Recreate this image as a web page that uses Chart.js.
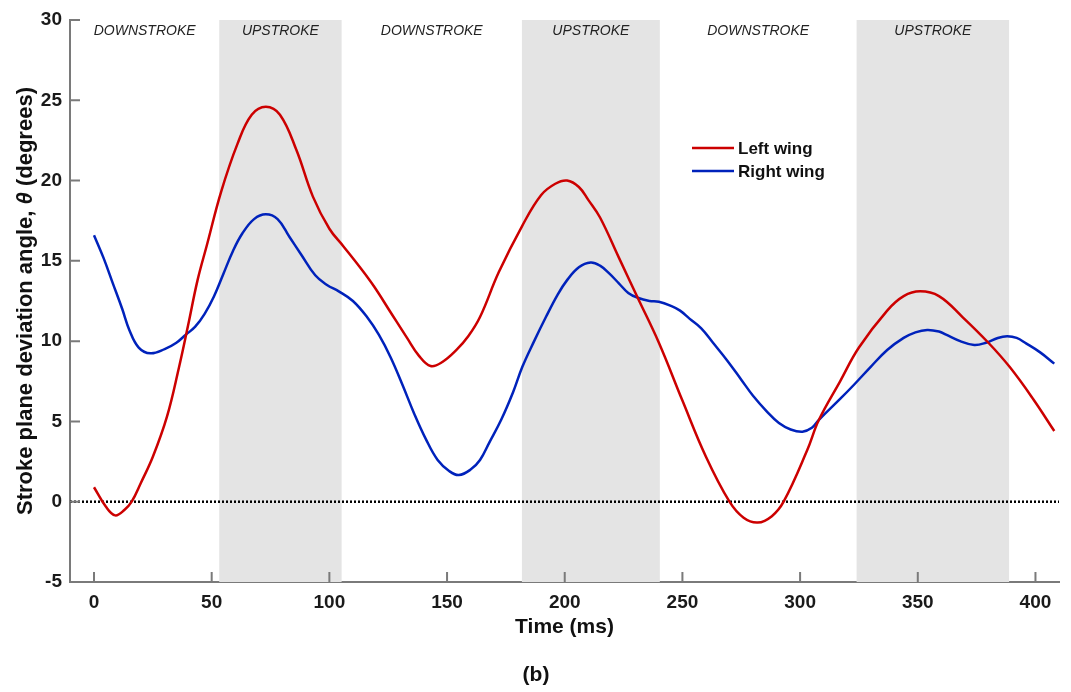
<!DOCTYPE html>
<html>
<head>
<meta charset="utf-8">
<script src="https://cdn.jsdelivr.net/npm/chart.js@4.4.1/dist/chart.umd.min.js"></script>
<style>
  html, body { margin: 0; padding: 0; background: #fff; }
  #wrap { width: 1071px; height: 692px; }
</style>
</head>
<body>
<div id="wrap"><canvas id="strokeChart" width="1071" height="692"></canvas></div>
<script>
// time samples (ms) and stroke plane deviation angle (deg)
var leftTime = [0, 5, 9, 13, 16, 20, 25, 31, 36, 40, 44, 48, 54, 61, 67, 73, 79, 86, 93, 100, 106, 113, 119, 126, 133, 138, 143, 148, 154, 159, 164, 172, 182, 190, 196, 201, 206, 210, 215, 223, 231, 240, 250, 260, 270, 276, 282, 288, 293, 303, 308, 317, 325, 337, 344, 351, 359, 369, 380, 389, 399, 408];
var leftWing = [0.9, -0.3, -0.85, -0.5, 0, 1.2, 2.8, 5.3, 8.3, 11.0, 13.8, 16.0, 19.3, 22.3, 24.1, 24.6, 24.1, 21.9, 19.0, 17.0, 15.9, 14.6, 13.4, 11.8, 10.2, 9.1, 8.45, 8.7, 9.45, 10.3, 11.5, 14.3, 17.2, 19.1, 19.8, 20.0, 19.6, 18.8, 17.7, 15.2, 12.7, 9.9, 6.3, 2.8, 0, -1.0, -1.3, -0.9, 0, 3.2, 5.1, 7.5, 9.6, 11.9, 12.8, 13.1, 12.8, 11.5, 9.9, 8.4, 6.4, 4.4];

var rightTime = [0, 4, 8, 12, 15, 19, 24, 30, 35, 39, 43, 47, 51, 55, 59, 63, 68, 73, 78, 83, 88, 94, 99, 104, 110, 116, 121, 126, 131, 136, 141, 146, 151, 155, 160, 164, 168, 173, 178, 182, 187, 192, 197, 201, 206, 211, 215, 219, 223, 227, 231, 236, 240, 245, 249, 253, 258, 263, 269, 275, 280, 286, 291, 296, 301, 305, 308, 317, 323, 330, 337, 344, 349, 354, 359, 362, 368, 374, 379, 384, 388, 392, 396, 402, 408];
var rightWing = [16.6, 15.2, 13.6, 12.0, 10.7, 9.6, 9.24, 9.5, 9.9, 10.4, 10.9, 11.7, 12.8, 14.2, 15.6, 16.7, 17.6, 17.9, 17.6, 16.5, 15.4, 14.1, 13.5, 13.1, 12.5, 11.5, 10.4, 9.0, 7.3, 5.5, 3.9, 2.6, 1.9, 1.66, 2.0, 2.6, 3.7, 5.1, 6.8, 8.4, 10.0, 11.5, 12.9, 13.8, 14.6, 14.9, 14.7, 14.2, 13.6, 13.0, 12.7, 12.5, 12.45, 12.2, 11.9, 11.4, 10.8, 9.9, 8.8, 7.6, 6.6, 5.6, 4.9, 4.5, 4.36, 4.6, 5.1, 6.4, 7.3, 8.4, 9.45, 10.2, 10.55, 10.7, 10.6, 10.4, 10.0, 9.76, 9.9, 10.2, 10.3, 10.2, 9.86, 9.3, 8.6];

// upstroke intervals (ms)
var upStart = [53.2, 181.8, 324];
var upEnd = [105.2, 240.4, 388.8];
var phaseLabels = ['DOWNSTROKE', 'UPSTROKE', 'DOWNSTROKE', 'UPSTROKE', 'DOWNSTROKE', 'UPSTROKE'];

var xTicks = [0, 50, 100, 150, 200, 250, 300, 350, 400];
var yTicks = [-5, 0, 5, 10, 15, 20, 25, 30];

function toPoints(xs, ys) {
  return xs.map(function (x, i) { return { x: x, y: ys[i] }; });
}

var FONT = '"Liberation Sans", Arial, Helvetica, sans-serif';
var AXIS_GREY = '#7a7a7a';

var decorations = {
  id: 'decorations',
  beforeDatasetsDraw: function (chart) {
    var ctx = chart.ctx, a = chart.chartArea;
    var xs = chart.scales.x, ys = chart.scales.y;
    ctx.save();
    // grey upstroke bands
    ctx.fillStyle = '#e4e4e4';
    for (var i = 0; i < upStart.length; i++) {
      var x0 = xs.getPixelForValue(upStart[i]);
      var x1 = xs.getPixelForValue(upEnd[i]);
      ctx.fillRect(x0, a.top, x1 - x0, a.bottom - a.top);
    }
    // dotted zero line
    var y0 = ys.getPixelForValue(0);
    ctx.strokeStyle = '#000';
    ctx.lineWidth = 2.5;
    ctx.setLineDash([2, 2]);
    ctx.beginPath();
    ctx.moveTo(a.left, y0);
    ctx.lineTo(a.right, y0);
    ctx.stroke();
    ctx.setLineDash([]);

    // phase labels, centred in each interval
    var bounds = [xs.min];
    for (var j = 0; j < upStart.length; j++) { bounds.push(upStart[j], upEnd[j]); }
    ctx.fillStyle = '#222';
    ctx.font = 'italic 14px ' + FONT;
    ctx.textAlign = 'center';
    ctx.textBaseline = 'middle';
    for (var k = 0; k < phaseLabels.length; k++) {
      var cx = (xs.getPixelForValue(bounds[k]) + xs.getPixelForValue(bounds[k + 1])) / 2;
      ctx.fillText(phaseLabels[k], cx, a.top + 11);
    }
    ctx.restore();
  },
  afterDraw: function (chart) {
    var ctx = chart.ctx, a = chart.chartArea;
    var xs = chart.scales.x, ys = chart.scales.y;
    ctx.save();
    // inward tick marks
    ctx.strokeStyle = AXIS_GREY;
    ctx.lineWidth = 2;
    ctx.beginPath();
    yTicks.forEach(function (v) {
      var py = ys.getPixelForValue(v);
      ctx.moveTo(a.left, py);
      ctx.lineTo(a.left + 10, py);
    });
    xTicks.forEach(function (v) {
      var px = xs.getPixelForValue(v);
      ctx.moveTo(px, a.bottom);
      ctx.lineTo(px, a.bottom - 10);
    });
    ctx.stroke();

    // legend
    var items = [['Left wing', '#cc0000'], ['Right wing', '#0022bb']];
    ctx.font = 'bold 17px ' + FONT;
    ctx.textAlign = 'left';
    ctx.textBaseline = 'middle';
    items.forEach(function (it, i) {
      var ly = 148 + i * 23;
      ctx.strokeStyle = it[1];
      ctx.lineWidth = 2.5;
      ctx.beginPath();
      ctx.moveTo(692, ly);
      ctx.lineTo(734, ly);
      ctx.stroke();
      ctx.fillStyle = '#111';
      ctx.fillText(it[0], 738, ly + 1);
    });

    // axis titles
    ctx.fillStyle = '#111';
    ctx.font = 'bold 21px ' + FONT;
    ctx.textAlign = 'center';
    ctx.fillText('Time (ms)', (a.left + a.right) / 2, 627);
    ctx.fillText('(b)', 536, 675);

    ctx.translate(26, (a.top + a.bottom) / 2);
    ctx.rotate(-Math.PI / 2);
    var p1 = 'Stroke plane deviation angle, ';
    var p2 = '\u03b8';
    var p3 = ' (degrees)';
    var bold = 'bold 22px ' + FONT;
    var ital = 'bold italic 22px ' + FONT;
    ctx.font = bold;
    var w1 = ctx.measureText(p1).width, w3 = ctx.measureText(p3).width;
    ctx.font = ital;
    var w2 = ctx.measureText(p2).width;
    var start = -(w1 + w2 + w3) / 2;
    ctx.textAlign = 'left';
    ctx.font = bold;
    ctx.fillText(p1, start, 0);
    ctx.font = ital;
    ctx.fillText(p2, start + w1, 0);
    ctx.font = bold;
    ctx.fillText(p3, start + w1 + w2, 0);
    ctx.restore();
  }
};

var ctx = document.getElementById('strokeChart');
var chart = new Chart(ctx, {
  type: 'line',
  data: {
    datasets: [
      {
        label: 'Left wing',
        data: toPoints(leftTime, leftWing),
        borderColor: '#cc0000',
        borderWidth: 2.5,
        pointRadius: 0,
        tension: 0.4,
        fill: false
      },
      {
        label: 'Right wing',
        data: toPoints(rightTime, rightWing),
        borderColor: '#0022bb',
        borderWidth: 2.5,
        pointRadius: 0,
        tension: 0.4,
        fill: false
      }
    ]
  },
  options: {
    responsive: false,
    animation: false,
    layout: { padding: { left: 0, top: 20, right: 12, bottom: 70 } },
    plugins: { legend: { display: false }, tooltip: { enabled: false } },
    scales: {
      x: {
        type: 'linear',
        min: -10.2,
        max: 410,
        afterBuildTicks: function (s) { s.ticks = xTicks.map(function (v) { return { value: v }; }); },
        afterFit: function (s) { s.height = 40; },
        grid: { display: false, drawTicks: false },
        border: { color: AXIS_GREY, width: 2 },
        ticks: { color: '#1a1a1a', padding: 9, maxRotation: 0, autoSkip: false, font: { family: FONT, size: 19, weight: 'bold' } }
      },
      y: {
        min: -5,
        max: 30,
        afterBuildTicks: function (s) { s.ticks = yTicks.map(function (v) { return { value: v }; }); },
        afterFit: function (s) { s.width = 70; },
        grid: { display: false, drawTicks: false },
        border: { color: AXIS_GREY, width: 2 },
        ticks: { color: '#1a1a1a', padding: 8, font: { family: FONT, size: 19, weight: 'bold' } }
      }
    }
  },
  plugins: [decorations]
});
</script>
</body>
</html>
